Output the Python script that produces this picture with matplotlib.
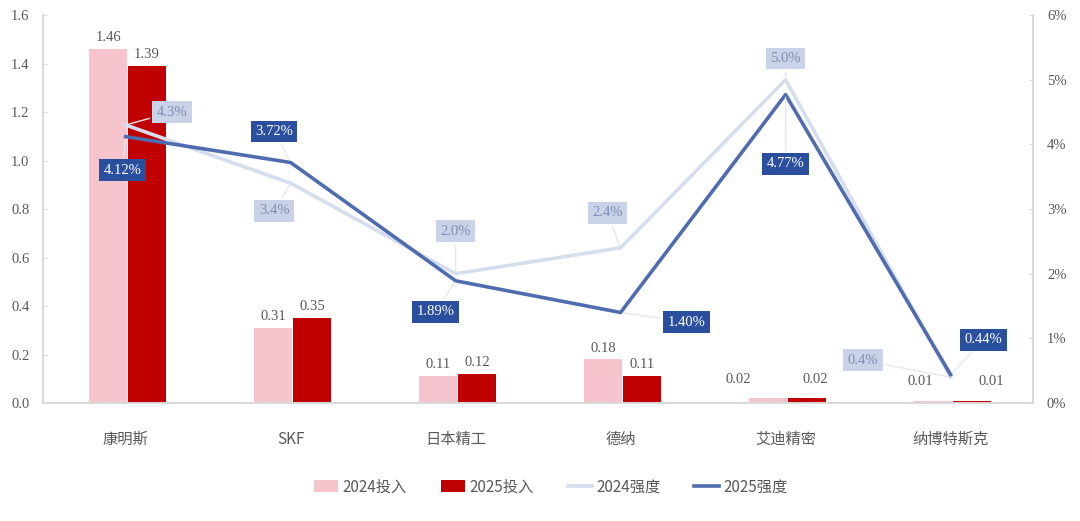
import matplotlib.pyplot as plt
import numpy as np
from matplotlib.ticker import FuncFormatter

plt.rcParams["font.family"] = ["Noto Sans CJK SC", "DejaVu Sans"]

categories = ["康明斯", "SKF", "日本精工", "德纳", "艾迪精密", "纳博特斯克"]
invest_2024 = [1.46, 0.31, 0.11, 0.18, 0.02, 0.01]
invest_2025 = [1.39, 0.35, 0.12, 0.11, 0.02, 0.01]
ratio_2024 = [4.3, 3.4, 2.0, 2.4, 5.0, 0.4]
ratio_2025 = [4.12, 3.72, 1.89, 1.40, 4.77, 0.44]
ratio_2024_text = ["4.3%", "3.4%", "2.0%", "2.4%", "5.0%", "0.4%"]
ratio_2025_text = ["4.12%", "3.72%", "1.89%", "1.40%", "4.77%", "0.44%"]

c_bar24 = "#f6c4cc"
c_bar25 = "#c00000"
c_line24 = "#d6dded"
c_line25 = "#4f6cb0"
c_box24 = "#c9d2e6"
c_box25 = "#2a4f9e"
grey = "#595959"
serif = ["Liberation Serif", "DejaVu Serif"]

x = np.arange(len(categories))
w = 0.23

fig = plt.figure(figsize=(10.8, 5.21), dpi=100)
ax = fig.add_axes([0.040, 0.2265, 0.9165, 0.7445])
ax2 = ax.twinx()

ax.bar(x - 0.105, invest_2024, w, color=c_bar24, label="2024投入", zorder=2)
ax.bar(x + 0.13, invest_2025, w, color=c_bar25, label="2025投入", zorder=2)

ax.set_xlim(-0.5, 5.5)
ax.set_ylim(0, 1.6)
ax.set_yticks(np.arange(0, 1.61, 0.2))
ax.yaxis.set_major_formatter(FuncFormatter(lambda v, p: f"{v:.1f}"))
ax.set_xticks(x)
ax.set_xticklabels(categories, fontsize=11, color=grey)
ax.tick_params(axis="x", length=0, pad=20)
ax.tick_params(axis="y", direction="in", length=3, color="#d9d9d9", pad=10)
for lab in ax.get_yticklabels():
    lab.set_fontfamily(serif)
    lab.set_fontsize(10.5)
    lab.set_color(grey)

ax2.plot(x, ratio_2024, color=c_line24, lw=2.6, label="2024强度", zorder=3)
ax2.plot(x, ratio_2025, color=c_line25, lw=2.6, label="2025强度", zorder=4)
ax2.set_ylim(0, 6)
ax2.set_yticks(np.arange(0, 7, 1))
ax2.yaxis.set_major_formatter(FuncFormatter(lambda v, p: f"{v:.0f}%"))
ax2.tick_params(axis="y", direction="in", length=3, color="#d9d9d9", pad=10)
for lab in ax2.get_yticklabels():
    lab.set_fontfamily(serif)
    lab.set_fontsize(10.5)
    lab.set_color(grey)

for a in (ax, ax2):
    a.spines["top"].set_visible(False)
    for s in ("left", "right", "bottom"):
        a.spines[s].set_color("#d9d9d9")
        a.spines[s].set_linewidth(1.2)

# bar value labels (x shift in category units, y offset in data units)
lab_dx_24 = [0, 0, 0, 0, -0.18, -0.08]
lab_dx_25 = [0, 0, 0, 0, 0.05, 0.12]
lab_dy = [0.02, 0.02, 0.02, 0.02, 0.05, 0.05]
for i in range(len(categories)):
    ax.text(x[i] - 0.105 + lab_dx_24[i], invest_2024[i] + lab_dy[i], f"{invest_2024[i]:.2f}",
            ha="center", va="bottom", fontsize=10.5, color=grey, family=serif, zorder=5)
    ax.text(x[i] + 0.13 + lab_dx_25[i], invest_2025[i] + lab_dy[i], f"{invest_2025[i]:.2f}",
            ha="center", va="bottom", fontsize=10.5, color=grey, family=serif, zorder=5)

# ratio label positions (offset in category units / percent units)
pos_24 = [(0.28, 0.2), (-0.1, -0.43), (0.0, 0.66), (-0.08, 0.54), (0.0, 0.33), (-0.53, 0.26)]
pos_25 = [(-0.02, -0.52), (-0.1, 0.48), (-0.12, -0.48), (0.4, -0.15), (0.0, -1.07), (0.2, 0.54)]
for i in range(len(categories)):
    dx, dy = pos_24[i]
    ax2.annotate(ratio_2024_text[i], xy=(x[i], ratio_2024[i]), xytext=(x[i] + dx, ratio_2024[i] + dy),
                 ha="center", va="center", fontsize=10.5, color="#7f8fb5", family=serif,
                 bbox=dict(boxstyle="square,pad=0.3", fc=c_box24, ec="none"),
                 arrowprops=dict(arrowstyle="-", color="#e3e7f1", lw=1), zorder=6)
    dx, dy = pos_25[i]
    ax2.annotate(ratio_2025_text[i], xy=(x[i], ratio_2025[i]), xytext=(x[i] + dx, ratio_2025[i] + dy),
                 ha="center", va="center", fontsize=10.5, color="white", family=serif,
                 bbox=dict(boxstyle="square,pad=0.3", fc=c_box25, ec="none"),
                 arrowprops=dict(arrowstyle="-", color="#e3e7f1", lw=1), zorder=7)

h1, l1 = ax.get_legend_handles_labels()
h2, l2 = ax2.get_legend_handles_labels()
fig.legend(h1 + h2, l1 + l2, loc="center", bbox_to_anchor=(0.51, 0.065), ncol=4,
           frameon=False, fontsize=11, labelcolor=grey, handlelength=1.6,
           handleheight=0.8, columnspacing=2.2, handletextpad=0.3)

fig.savefig("out.png", dpi=100)
